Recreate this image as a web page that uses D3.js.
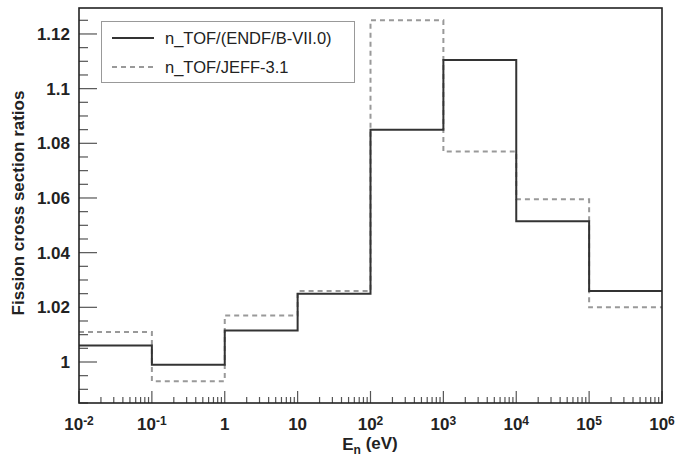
<!DOCTYPE html>
<html lang="en">
<head>
<meta charset="utf-8">
<script src="https://cdn.jsdelivr.net/npm/d3@7"></script>
<style>
  body { margin: 0; background: #fff; }
  svg { font-family: "Liberation Sans", Arial, sans-serif; }
</style>
</head>
<body>
<script>
// Bin edges (eV) and ratio per bin
const binEdges = [1e-2, 1e-1, 1, 1e1, 1e2, 1e3, 1e4, 1e5, 1e6]
const endfRatio = [1.006, 0.999, 1.0115, 1.025, 1.085, 1.1105, 1.0515, 1.026]
const jeffRatio = [1.011, 0.993, 1.017, 1.026, 1.125, 1.077, 1.0595, 1.020]
const seriesNames = ["n_TOF/(ENDF/B-VII.0)", "n_TOF/JEFF-3.1"]
// tick labels
const yTicks = [1, 1.02, 1.04, 1.06, 1.08, 1.1, 1.12]
const yTickLabels = ["1", "1.02", "1.04", "1.06", "1.08", "1.1", "1.12"]
const xTicks = [1e-2, 1e-1, 1, 1e1, 1e2, 1e3, 1e4, 1e5, 1e6]
const xTickLabels = [["10", "-2"], ["10", "-1"], ["1", ""], ["10", ""], ["10", "2"], ["10", "3"], ["10", "4"], ["10", "5"], ["10", "6"]]

const w = 676, h = 464
const margin = {left: 79, right: 14, top: 8, bottom: 61}
const iw = w - margin.left - margin.right
const ih = h - margin.top - margin.bottom

const svg = d3.select("body").append("svg").attr("width", w).attr("height", h)
const g = svg.append("g").attr("transform", `translate(${margin.left},${margin.top})`)

const x = d3.scaleLog().domain([1e-2, 1e6]).range([0, iw])
const y = d3.scaleLinear().domain([0.985, 1.1295]).range([ih, 0])

// y ticks (inward)
const yMinor = d3.range(0.985, 1.1295, 0.005).filter(v => !yTicks.some(t => Math.abs(t - v) < 1e-6))
g.selectAll("line.ymin").data(yMinor).enter().append("line")
  .attr("x1", 0).attr("x2", 9).attr("y1", d => y(d)).attr("y2", d => y(d))
  .attr("stroke", "#555").attr("stroke-width", 1.2)
g.selectAll("line.ymaj").data(yTicks).enter().append("line")
  .attr("x1", 0).attr("x2", 18).attr("y1", d => y(d)).attr("y2", d => y(d))
  .attr("stroke", "#555").attr("stroke-width", 1.2)
g.selectAll("text.ylab").data(yTicks).enter().append("text")
  .attr("x", -9).attr("y", d => y(d)).attr("dy", "0.36em")
  .attr("text-anchor", "end").attr("font-size", 17).attr("font-weight", "bold")
  .attr("fill", "#222")
  .text((d, i) => yTickLabels[i])

// x ticks (inward)
const xMinor = []
xTicks.slice(0, -1).forEach(t => { for (let k = 2; k <= 9; k++) xMinor.push(t * k) })
g.selectAll("line.xmin").data(xMinor).enter().append("line")
  .attr("x1", d => x(d)).attr("x2", d => x(d)).attr("y1", ih).attr("y2", ih - 6)
  .attr("stroke", "#555").attr("stroke-width", 1.2)
g.selectAll("line.xmaj").data(xTicks).enter().append("line")
  .attr("x1", d => x(d)).attr("x2", d => x(d)).attr("y1", ih).attr("y2", ih - 12)
  .attr("stroke", "#555").attr("stroke-width", 1.2)
const xl = g.selectAll("text.xlab").data(xTicks).enter().append("text")
  .attr("x", d => x(d)).attr("y", ih + 27)
  .attr("text-anchor", "middle").attr("font-size", 17).attr("font-weight", "bold")
  .attr("fill", "#222")
xl.append("tspan").text((d, i) => xTickLabels[i][0])
xl.append("tspan").attr("dy", "-0.45em").attr("font-size", 12)
  .text((d, i) => xTickLabels[i][1])

// step lines
function stepPath(vals) {
  let p = ""
  vals.forEach((v, i) => {
    const x0 = x(binEdges[i]), x1 = x(binEdges[i + 1])
    p += (i === 0 ? "M" : "L") + x0 + "," + y(v) + "L" + x1 + "," + y(v)
  })
  return p
}
g.append("path").attr("d", stepPath(jeffRatio))
  .attr("fill", "none").attr("stroke", "#999").attr("stroke-width", 2)
  .attr("stroke-dasharray", "5,4")
g.append("path").attr("d", stepPath(endfRatio))
  .attr("fill", "none").attr("stroke", "#333").attr("stroke-width", 2)

// frame
g.append("rect").attr("width", iw).attr("height", ih)
  .attr("fill", "none").attr("stroke", "#222").attr("stroke-width", 1.6)

// legend
const lg = svg.append("g")
lg.append("rect").attr("x", 101.5).attr("y", 21.5).attr("width", 253).attr("height", 61)
  .attr("fill", "#fff").attr("stroke", "#999").attr("stroke-width", 1)
const styles = [{c: "#333", d: null}, {c: "#999", d: "5,4"}]
seriesNames.forEach((name, i) => {
  const yy = 38 + i * 29
  lg.append("line").attr("x1", 112).attr("x2", 154).attr("y1", yy).attr("y2", yy)
    .attr("stroke", styles[i].c).attr("stroke-width", 2)
    .attr("stroke-dasharray", styles[i].d)
  lg.append("text").attr("x", 165).attr("y", yy).attr("dy", "0.36em")
    .attr("font-size", 16.5).attr("fill", "#222").text(name)
})

// axis titles
const xt = svg.append("text").attr("x", 370).attr("y", 450)
  .attr("text-anchor", "middle").attr("font-size", 17).attr("font-weight", "bold").attr("fill", "#222")
xt.append("tspan").text("E")
xt.append("tspan").attr("dy", "0.3em").attr("font-size", 12).text("n")
xt.append("tspan").attr("dy", "-0.3em").text(" (eV)")

svg.append("text").attr("transform", "translate(24,203) rotate(-90)")
  .attr("text-anchor", "middle").attr("font-size", 17).attr("font-weight", "bold").attr("fill", "#222")
  .text("Fission cross section ratios")
</script>
</body>
</html>
